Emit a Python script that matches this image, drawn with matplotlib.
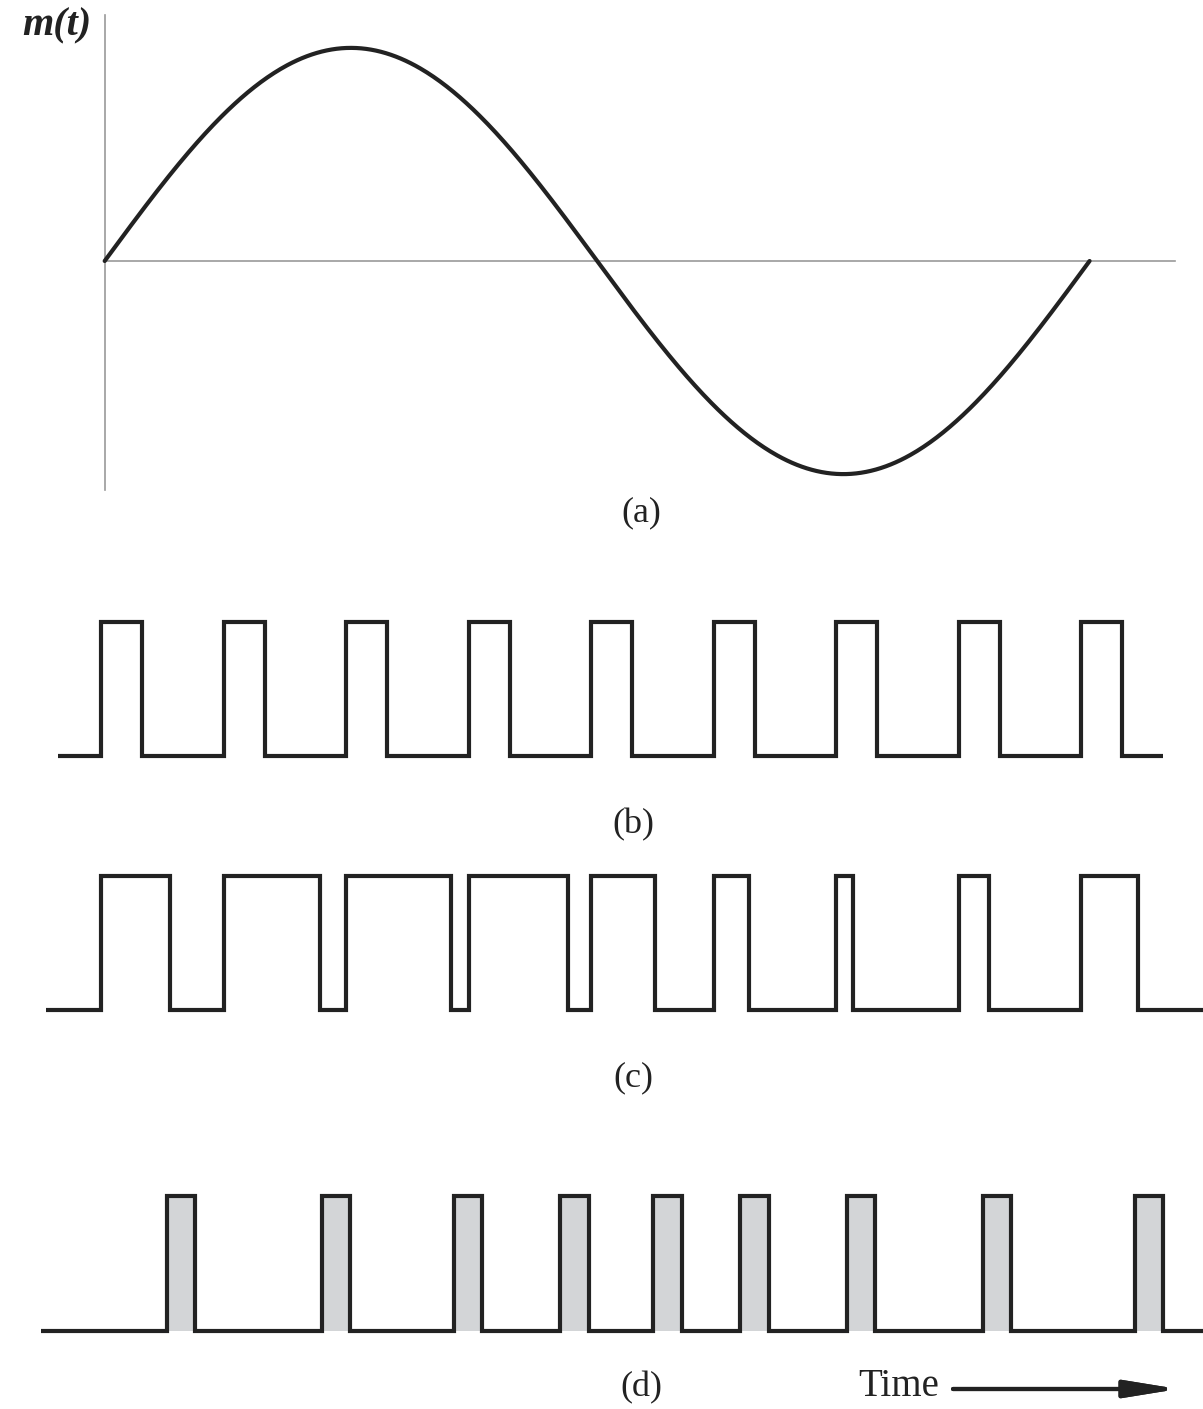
import matplotlib
matplotlib.use("Agg")
import numpy as np
import matplotlib.pyplot as plt

W, H = 1203, 1409
INK = "#222222"
AXIS_GREY = "#9a9a9a"
FILL_GREY = "#d3d5d7"

# time axis: one clock period = 1 unit, first sample at t = 0
sample_times = np.arange(9)
pam_width = 0.335
pwm_widths = [0.56, 0.79, 0.86, 0.81, 0.52, 0.29, 0.14, 0.245, 0.465]
ppm_offsets = [0.54, 0.80, 0.88, 0.75, 0.51, 0.22, 0.086, 0.20, 0.44]
ppm_width = 0.23

# message m(t)
sine_start = 0.03
sine_period = 8.04
sine_amp = 1.01

# where each trace starts and stops
pam_span = (-0.351, 8.67)
pwm_span = (-0.449, 9.1)
ppm_span = (-0.486, 9.1)

px_per_t = 122.5
x0_px = 101
XLIM = (-x0_px / px_per_t, (W - x0_px) / px_per_t)


def panel(fig, top_px, bottom_px, ylim):
    ax = fig.add_axes([0, 1 - bottom_px / H, 1, (bottom_px - top_px) / H])
    ax.set_xlim(XLIM)
    ax.set_ylim(ylim)
    ax.axis("off")
    return ax


def pulse_train(starts, widths, span):
    xs, ys = [span[0]], [0]
    for s, w in zip(starts, widths):
        xs += [s, s, s + w, s + w]
        ys += [0, 1, 1, 0]
    xs.append(span[1])
    ys.append(0)
    return np.array(xs), np.array(ys)


fig = plt.figure(figsize=(W / 100, H / 100), dpi=100)
fig.patch.set_facecolor("white")

# (a) message signal
ax_a = panel(fig, 0, 520, (-259 / 211, 261 / 211))
ax_a.plot([0.033, 0.033], [1.166, -1.085], color=AXIS_GREY, lw=1.2)
ax_a.plot([0.033, 8.767], [0, 0], color=AXIS_GREY, lw=1.2)
t = np.linspace(sine_start, sine_start + sine_period, 600)
ax_a.plot(t, sine_amp * np.sin(2 * np.pi * (t - sine_start) / sine_period),
          color=INK, lw=3, solid_capstyle="round")

line_kw = dict(color=INK, lw=3, solid_joinstyle="miter", solid_capstyle="butt")

# (b) PAM
ax_b = panel(fig, 560, 800, (-44 / 134, 196 / 134))
xb, yb = pulse_train(sample_times, [pam_width] * len(sample_times), pam_span)
ax_b.plot(xb, yb, **line_kw)

# (c) PWM
ax_c = panel(fig, 840, 1050, (-40 / 134, 170 / 134))
xc, yc = pulse_train(sample_times, pwm_widths, pwm_span)
ax_c.plot(xc, yc, **line_kw)

# (d) PPM
ax_d = panel(fig, 1150, 1409, (-78 / 135, 181 / 135))
ppm_starts = sample_times + np.array(ppm_offsets)
for s in ppm_starts:
    ax_d.fill_between([s, s + ppm_width], 0, 1, color=FILL_GREY, lw=0)
xd, yd = pulse_train(ppm_starts, [ppm_width] * len(ppm_starts), ppm_span)
ax_d.plot(xd, yd, **line_kw)

# labels
lab = dict(family="Liberation Serif", fontsize=26, color=INK,
           ha="center", va="center")
fig.text(641 / W, 1 - 513 / H, "(a)", **lab)
fig.text(633 / W, 1 - 825 / H, "(b)", **lab)
fig.text(633 / W, 1 - 1078 / H, "(c)", **lab)
fig.text(641 / W, 1 - 1388 / H, "(d)", **lab)
fig.text(858 / W, 1 - 1387 / H, "Time", family="Liberation Serif",
         fontsize=28, color=INK, ha="left", va="center")
fig.text(57 / W, 1 - 26 / H, "m(t)", family="Liberation Serif",
         fontsize=29, style="italic", weight="bold", color=INK,
         ha="center", va="center")

fig.add_artist(plt.annotate(
    "", xy=(1178, H - 1389), xytext=(953, H - 1389),
    xycoords="figure pixels", textcoords="figure pixels",
    arrowprops=dict(arrowstyle="-|>,head_length=0.8,head_width=0.13",
                    color=INK, lw=3, mutation_scale=40,
                    shrinkA=0, shrinkB=0)))

fig.savefig("out.png", dpi=100, facecolor="white")
